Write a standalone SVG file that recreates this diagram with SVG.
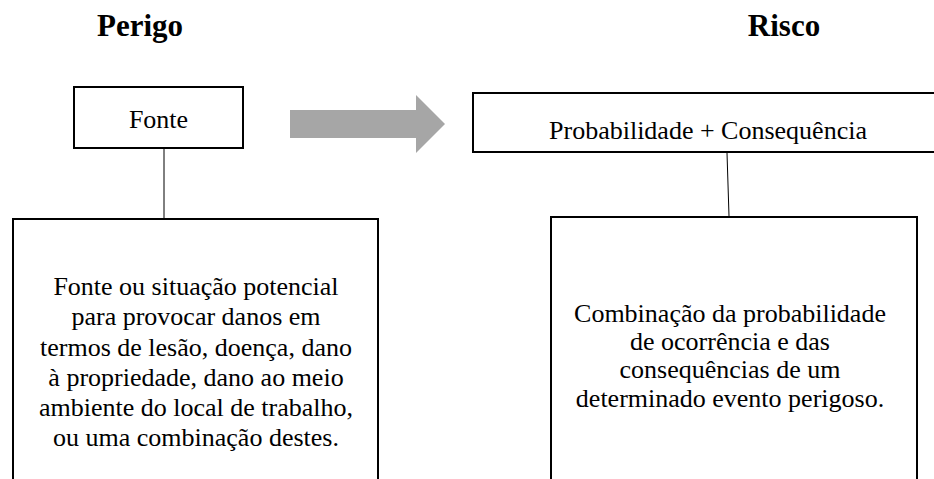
<svg xmlns="http://www.w3.org/2000/svg" width="934" height="479" viewBox="0 0 934 479">
<style>
.box{fill:#fff;stroke:#000;stroke-width:2}
.open{fill:none;stroke:#000;stroke-width:2}
.conn{stroke:#000;stroke-width:1;fill:none}
.t{font-family:"Liberation Serif","Times New Roman",serif;font-size:26px;fill:#000;text-anchor:middle}
.h{font-family:"Liberation Serif","Times New Roman",serif;font-size:31px;font-weight:bold;fill:#000;text-anchor:middle}
</style>
<rect width="934" height="479" fill="#fff"/>
<g id="title-perigo"><text class="h" x="140" y="36">Perigo</text></g>
<g id="title-risco"><text class="h" x="784" y="36">Risco</text></g>
<g id="connectors">
<line class="conn" x1="164" y1="149" x2="164" y2="218"/>
<line class="conn" x1="727" y1="153" x2="729" y2="216"/>
<polygon points="290,110 416,110 416,95 445,124 416,153 416,138 290,138" fill="#a6a6a6"/>
</g>
<g id="node-fonte">
<rect class="box" x="74" y="87" width="169" height="61"/>
<text class="t" x="158.5" y="128">Fonte</text>
</g>
<g id="node-prob">
<rect class="box" x="473" y="93" width="480" height="59"/>
<text class="t" x="708" y="139">Probabilidade + Consequência</text>
</g>
<g id="node-perigo-def">
<path class="open" d="M13,481 V219 H378 V481"/>
<text class="t" x="196" y="295">Fonte ou situação potencial</text>
<text class="t" x="196" y="325">para provocar danos em</text>
<text class="t" x="196" y="356">termos de lesão, doença, dano</text>
<text class="t" x="196" y="386">à propriedade, dano ao meio</text>
<text class="t" x="196" y="416">ambiente do local de trabalho,</text>
<text class="t" x="196" y="446">ou uma combinação destes.</text>
</g>
<g id="node-risco-def">
<path class="open" d="M551,481 V217 H917 V481"/>
<text class="t" x="730" y="322">Combinação da probabilidade</text>
<text class="t" x="730" y="350">de ocorrência e das</text>
<text class="t" x="730" y="378">consequências de um</text>
<text class="t" x="730" y="407">determinado evento perigoso.</text>
</g>
</svg>
